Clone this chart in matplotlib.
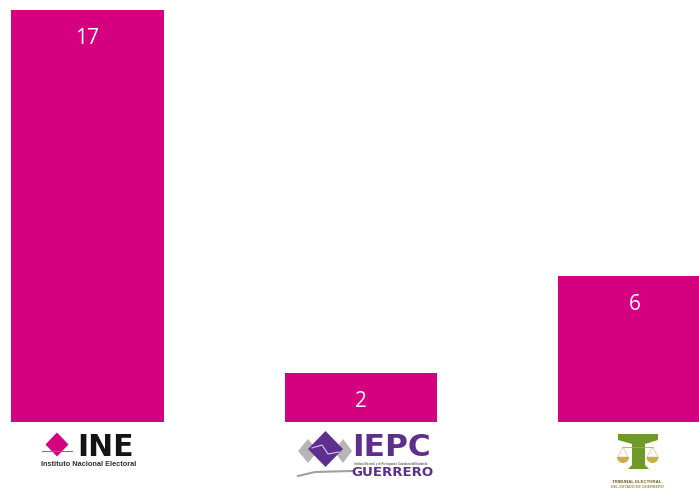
import matplotlib
matplotlib.use('Agg')
import matplotlib.pyplot as plt
from matplotlib.patches import Polygon, Wedge

categories = ['INE', 'IEPC Guerrero', 'Tribunal Electoral']
values = [17, 2, 6]

W, H = 699, 489
BAR_COLOR = '#d5007f'
PURPLE = '#5f2f8e'

fig = plt.figure(figsize=(W / 100, H / 100), dpi=100)
fig.patch.set_facecolor('white')

# bars
ax = fig.add_axes([0, (H - 422.5) / H, 1, 412 / H])
pos = list(range(len(categories)))
bars = ax.bar(pos, values, width=0.556, color=BAR_COLOR)
ax.set_xlim(-87.5 / 273.5, 611.5 / 273.5)
ax.set_ylim(0, 17)
ax.axis('off')
for b, v in zip(bars, values):
    ax.annotate(str(v), (b.get_x() + b.get_width() / 2, v), xytext=(0, -20),
                textcoords='offset points', ha='center', va='center',
                color='white', fontsize=15, family='Open Sans')

# logos are drawn in pixel coordinates on an overlay
lg = fig.add_axes([0, 0, 1, 1])
lg.set_xlim(0, W)
lg.set_ylim(H, 0)
lg.axis('off')
lg.patch.set_alpha(0)


def diamond(cx, cy, rx, ry, **kw):
    lg.add_patch(Polygon([(cx - rx, cy), (cx, cy - ry), (cx + rx, cy), (cx, cy + ry)], **kw))


# INE
diamond(57, 445.5, 11.5, 12, color=BAR_COLOR, lw=0)
lg.plot([42, 72], [452, 452], color='#777777', lw=0.8)
lg.text(105.5, 447.5, 'INE', ha='center', va='center', fontsize=21.5,
        fontweight='bold', family='DejaVu Sans', color='#141414')
lg.text(88.5, 465, 'Instituto Nacional Electoral', ha='center', va='center',
        fontsize=5.35, fontweight='bold', family='Liberation Sans', color='#333333')

# IEPC
diamond(308, 452, 10, 12, color='#b5b5b5', lw=0)
diamond(343, 452, 9, 12, color='#b5b5b5', lw=0)
diamond(325.5, 450, 17.5, 18, color=PURPLE, lw=0)
lg.plot([312, 322, 328, 339], [449, 446, 455, 453], color='#d8cbe6', lw=0.8)
lg.plot([298, 315, 352], [477, 473, 472], color='#a0a0a0', lw=1.5)
lg.text(391.5, 448, 'IEPC', ha='center', va='center', fontsize=22.5,
        fontweight='bold', family='DejaVu Sans', color=PURPLE)
lg.text(391, 463.5, 'Instituto Electoral y de Participación Ciudadana del Estado de',
        ha='center', va='center', fontsize=1.8, fontweight='bold',
        family='Liberation Sans', color='#555555')
lg.text(392, 472.5, 'GUERRERO', ha='center', va='center', fontsize=9.6,
        fontweight='bold', family='DejaVu Sans', color=PURPLE)

# Tribunal
lg.add_patch(Polygon([(618, 435), (658, 435), (658, 441), (645, 445), (645, 466),
                      (649, 470), (628, 470), (632, 466), (632, 445), (618, 441)],
                     color='#6f9a2a', lw=0))
lg.plot([623, 653], [448, 448], color='#b9a24a', lw=0.6)
lg.add_patch(Wedge((623, 458), 6, 0, 180, color='#c9ad45', lw=0))
lg.add_patch(Wedge((652.5, 458), 6, 0, 180, color='#c9ad45', lw=0))
lg.plot([623, 618, 628, 623], [448, 458, 458, 448], color='#c9b56a', lw=0.4)
lg.plot([652.5, 647, 658, 652.5], [448, 458, 458, 448], color='#c9b56a', lw=0.4)
lg.text(637, 482, 'TRIBUNAL ELECTORAL', ha='center', va='center', fontsize=3.2,
        fontweight='bold', family='Liberation Sans', color='#6b5a22')
lg.text(637, 486.5, 'DEL ESTADO DE GUERRERO', ha='center', va='center', fontsize=2.7,
        fontweight='bold', family='Liberation Sans', color='#a08a3a')

fig.savefig('out.png', dpi=100)
